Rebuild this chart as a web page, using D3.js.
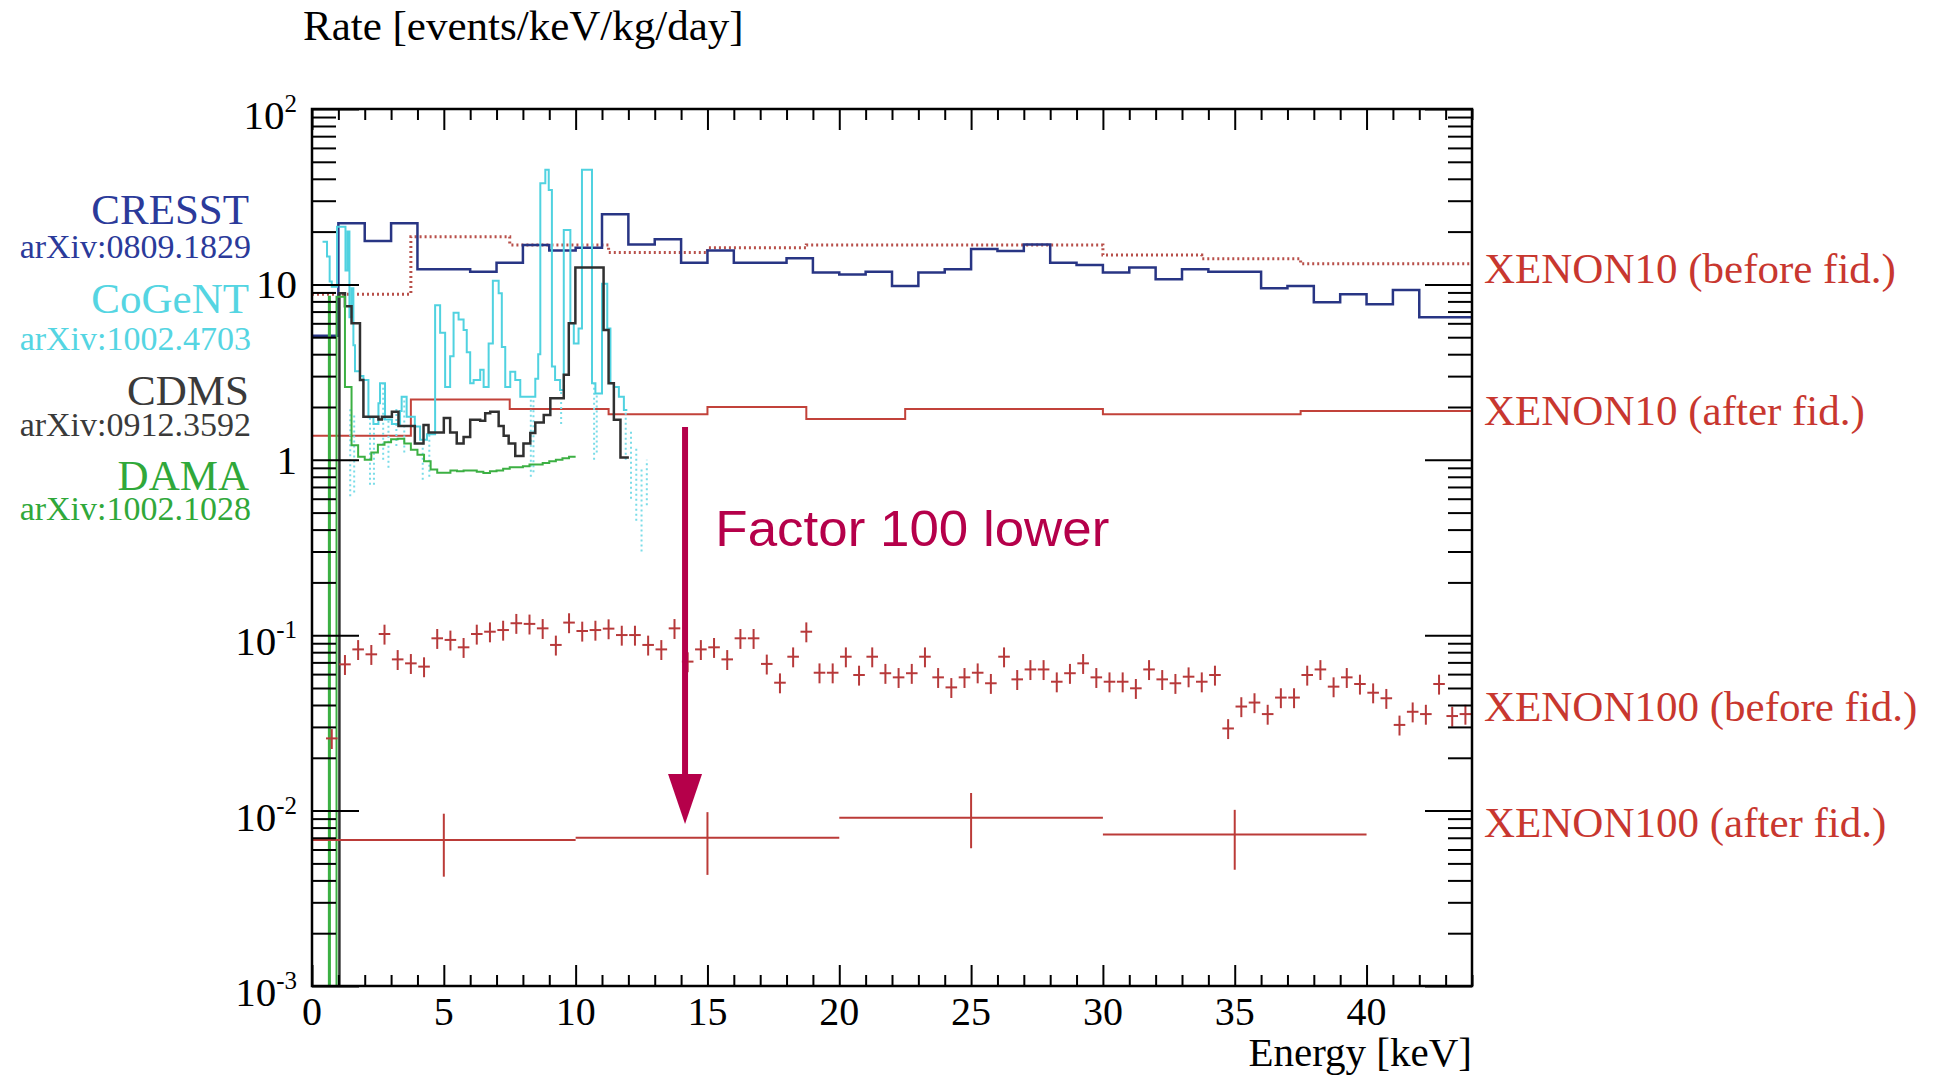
<!DOCTYPE html>
<html>
<head>
<meta charset="utf-8">
<script src="https://cdn.jsdelivr.net/npm/d3@7"></script>
<style>
  body { margin: 0; background: #fff; }
  svg { display: block; }
  text { font-family: "Liberation Serif", "Times New Roman", serif; }
</style>
</head>
<body>
<div id="chart"></div>
<script>
// ---- data (energy in keV, rate in events/keV/kg/day) ----

// CRESST, 1 keV bins
var cresstEdges = [0,1,2,3,4,5,6,7,8,9,10,11,12,13,14,15,16,17,18,19,20,21,22,23,24,25,26,27,28,29,30,31,32,33,34,35,36,37,38,39,40,41,42,43,44];
var cresstRate = [5.1,22.3,17.7,22.3,12.2,12.2,11.8,13.3,16.8,15.6,16.2,25.1,16.9,18.1,13.3,15.6,13.3,13.3,14.1,11.7,
  11.4,11.8,9.8,11.7,12.2,15.9,15.5,16.9,13.3,12.9,11.7,12.5,10.7,12.2,11.8,11.8,9.5,9.8,7.9,8.8,7.7,9.3,6.5,6.5];

// CoGeNT
var cogentEdges = [0.40,0.57,0.67,0.75,0.95,1.27,1.35,1.42,1.50,1.57,1.63,1.82,1.95,2.14,2.33,2.52,2.58,2.77,3.03,3.34,
  3.40,3.59,3.90,4.10,4.36,4.67,4.86,5.05,5.24,5.37,5.56,5.75,5.87,6.00,6.13,6.38,6.51,6.70,6.86,7.08,
  7.20,7.33,7.52,7.71,7.90,8.47,8.58,8.66,8.85,8.98,9.10,9.22,9.41,9.55,9.80,9.93,10.11,10.24,10.62,10.75,
  11.00,11.20,11.32,11.45,11.64,11.83,11.96];
var cogentRate = [17.5,14.4,10.4,9.7,21.3,12,20,6.5,9.5,4.5,3.2,3.0,2.85,1.75,1.6,2.1,2.73,1.7,1.6,1.9,
  2.29,1.76,1.55,1.3,1.4,7.6,5.3,2.6,3.9,6.9,6.3,5.5,4.1,2.73,2.85,3.26,2.6,4.6,10.5,8.9,
  4.4,2.6,3.18,2.85,2.29,2.9,4.0,37.7,45,34.5,3.4,2.85,2.5,20.4,6.0,4.6,5.6,45,2.73,2.39,
  10.1,5.6,2.73,2.6,2.29,1.92];
// CoGeNT error bars [energy, low, high]
var cogentErr = [[1.45,0.62,2.0],[1.6,0.65,1.8],[2.2,0.72,1.75],[2.35,0.72,1.6],[2.7,1.0,2.7],[2.9,0.9,1.7],
  [3.2,1.2,2.0],[3.5,1.1,2.3],[4.2,0.77,1.3],[4.45,0.8,1.4],[8.3,0.8,2.2],[8.4,0.85,2.2],[9.45,1.6,2.5],
  [10.7,1.0,2.7],[10.8,1.1,2.4],[11.9,1.0,1.9],[12.1,0.6,1.5],[12.3,0.45,1.2],[12.5,0.3,0.9],[12.7,0.55,1.0]];

// CDMS
var cdmsEdges = [1.04,1.25,1.5,1.82,1.95,2.52,2.65,3.03,3.28,3.6,3.9,4.23,4.42,4.74,5.0,5.24,5.49,5.75,6.0,6.38,
  6.57,6.76,7.08,7.27,7.46,7.71,8.02,8.28,8.47,8.79,9.04,9.55,9.74,9.99,11.06,11.25,11.45,11.7,12.02];
var cdmsRate = [8.9,7.5,6.0,2.85,1.76,1.7,1.76,1.88,1.56,1.56,1.24,1.58,1.43,1.43,1.73,1.43,1.24,1.35,1.69,1.67,
  1.84,1.88,1.56,1.37,1.24,1.05,1.24,1.42,1.63,1.80,2.24,3.05,6.0,12.5,5.5,2.73,1.69,1.03];

// DAMA
var damaEdges = [0.64,0.68,0.93,1.25,1.5,1.75,2.0,2.25,2.5,2.75,3.0,3.25,3.5,3.75,4.0,4.25,4.5,4.75,5.0,5.25,
  5.5,5.75,6.0,6.25,6.5,6.75,7.0,7.25,7.5,7.75,8.0,8.25,8.5,8.75,9.0,9.25,9.5,9.75,10.0];
var damaRate = [8.5,0,8.5,2.6,1.21,1.04,1.0,1.1,1.22,1.26,1.31,1.32,1.24,1.14,1.07,0.98,0.88,0.845,0.845,0.87,
  0.86,0.87,0.87,0.855,0.84,0.86,0.87,0.89,0.906,0.906,0.92,0.94,0.94,0.96,0.98,1.0,1.02,1.04];

// XENON10, 3.75 keV bins
var xe10Edges = [0,3.75,7.5,11.25,15,18.75,22.5,26.25,30,33.75,37.5,41.25,45];
var xe10BeforeRate = [8.8,18.7,16.8,15.2,16.2,16.8,16.8,16.8,14.7,14.0,13.1,13.1];
var xe10AfterRate = [1.37,2.21,1.95,1.82,2.0,1.71,1.95,1.95,1.82,1.82,1.90,1.90];

// XENON100 before fiducial cut, 0.5 keV bins starting at 0.5 keV
var xe100BeforeStart = 0.5, xe100BeforeWidth = 0.5, xe100BeforeRelErr = 0.13;
var xe100BeforeRate = [0.0258,0.0682,0.083,0.0778,0.1016,0.0728,0.0691,0.0662,0.096,0.094,
  0.0853,0.1016,0.1047,0.107,0.117,0.116,0.1094,0.088,0.118,0.1057,
  0.107,0.109,0.1002,0.1002,0.088,0.083,0.1094,0.0707,0.083,0.0853,
  0.0728,0.096,0.096,0.0686,0.0536,0.0754,0.1047,0.0611,0.0611,0.0754,
  0.0593,0.0754,0.0607,0.0575,0.0607,0.0754,0.0575,0.0504,0.0575,0.0611,
  0.0532,0.0754,0.056,0.0638,0.0638,0.0543,0.0607,0.0691,0.0575,0.0543,
  0.0543,0.0498,0.0638,0.056,0.0532,0.058,0.0543,0.0593,0.0294,0.0392,
  0.0413,0.0355,0.0441,0.0441,0.0593,0.0638,0.0509,0.0575,0.0527,0.047,
  0.0437,0.0308,0.0366,0.0355,0.0527,0.0346,0.0355];

// XENON100 after fiducial cut, 10 keV bins
var xe100AfterEdges = [0,10,20,30,40];
var xe100AfterRate = [0.0068,0.0070,0.0091,0.0073];
var xe100AfterLow = [0.0042,0.0043,0.0061,0.0046];
var xe100AfterHigh = [0.0096,0.0098,0.0126,0.0101];

// tick values
var energyMajor = [0,5,10,15,20,25,30,35,40];
var rateMajor = [1e-3,1e-2,1e-1,1,10,100];

// labels
var legendItems = [
  {name: "CRESST", ref: "arXiv:0809.1829", color: "#2b3a9a"},
  {name: "CoGeNT", ref: "arXiv:1002.4703", color: "#55d5e2"},
  {name: "CDMS", ref: "arXiv:0912.3592", color: "#3a3a3a"},
  {name: "DAMA", ref: "arXiv:1002.1028", color: "#30a83a"}
];
var xenonLabels = ["XENON10 (before fid.)", "XENON10 (after fid.)", "XENON100 (before fid.)", "XENON100 (after fid.)"];
var xenonLabelRates = [10.25, 1.58, 0.0325, 0.00703];

// arrow annotation (keV, rate)
var arrowEnergy = 14.15, arrowFrom = 1.54, arrowTo = 0.0084;
var noteEnergy = 15.3, noteRate = 0.323;

// ---- drawing ----
var W = 1943, H = 1076;
var plotL = 312, plotR = 1472, plotT = 109, plotB = 986;

var svg = d3.select("#chart").append("svg").attr("width", W).attr("height", H);
svg.append("rect").attr("width", W).attr("height", H).attr("fill", "#fff");

var x = d3.scaleLinear().domain([0, 44]).range([plotL, plotR]);
var y = d3.scaleLog().domain([1e-3, 1e2]).range([plotB, plotT]);
var yMin = y.domain()[0];

svg.append("clipPath").attr("id", "clip")
  .append("rect").attr("x", plotL).attr("y", plotT).attr("width", plotR - plotL).attr("height", plotB - plotT);

var plot = svg.append("g").attr("clip-path", "url(#clip)");

var stepLine = d3.line()
  .x(function(d) { return x(d[0]); })
  .y(function(d) { return y(Math.max(d[1], yMin)); })
  .curve(d3.curveStepAfter);

function histPoints(edges, rates, fromFloor) {
  var pts = rates.map(function(r, i) { return [edges[i], r]; });
  pts.push([edges[edges.length - 1], rates[rates.length - 1]]);
  if (fromFloor) pts.unshift([edges[0], 0]);
  return pts;
}

function drawHist(edges, rates, color, width, fromFloor, dash) {
  var p = plot.append("path")
    .attr("d", stepLine(histPoints(edges, rates, fromFloor)))
    .attr("fill", "none")
    .attr("stroke", color)
    .attr("stroke-width", width);
  if (dash) p.attr("stroke-dasharray", dash);
  return p;
}

// XENON10 before (dotted)
drawHist(xe10Edges, xe10BeforeRate, "#b8504a", 3, false, "2,3");
// CRESST
drawHist(cresstEdges, cresstRate, "#283584", 2.5, false);
// XENON10 after
drawHist(xe10Edges, xe10AfterRate, "#c2423a", 2, false);

// CoGeNT error bars (dotted) and histogram
plot.selectAll(".cogentErr").data(cogentErr).join("line")
  .attr("class", "cogentErr")
  .attr("x1", function(d) { return x(d[0]); })
  .attr("x2", function(d) { return x(d[0]); })
  .attr("y1", function(d) { return y(d[1]); })
  .attr("y2", function(d) { return y(d[2]); })
  .attr("stroke", "#7adce8")
  .attr("stroke-width", 2)
  .attr("stroke-dasharray", "2,3");
drawHist(cogentEdges, cogentRate, "#50d2e0", 2, false);

// CDMS
drawHist(cdmsEdges, cdmsRate, "#303030", 2.5, true);
// DAMA
drawHist(damaEdges, damaRate, "#3cb043", 2, true);

// XENON100 before: points with error bars
var xe100Color = "#b7393a";
var xe100b = plot.selectAll(".xe100b").data(xe100BeforeRate).join("g").attr("class", "xe100b");
xe100b.append("line")
  .attr("x1", function(d, i) { return x(xe100BeforeStart + (i + 0.5) * xe100BeforeWidth - 0.22); })
  .attr("x2", function(d, i) { return x(xe100BeforeStart + (i + 0.5) * xe100BeforeWidth + 0.22); })
  .attr("y1", function(d) { return y(d); })
  .attr("y2", function(d) { return y(d); });
xe100b.append("line")
  .attr("x1", function(d, i) { return x(xe100BeforeStart + (i + 0.5) * xe100BeforeWidth); })
  .attr("x2", function(d, i) { return x(xe100BeforeStart + (i + 0.5) * xe100BeforeWidth); })
  .attr("y1", function(d) { return y(d * (1 - xe100BeforeRelErr)); })
  .attr("y2", function(d) { return y(d * (1 + xe100BeforeRelErr)); });
xe100b.selectAll("line").attr("stroke", xe100Color).attr("stroke-width", 2);

// XENON100 after: wide bins with error bars
var xe100a = plot.selectAll(".xe100a").data(xe100AfterRate).join("g").attr("class", "xe100a");
xe100a.append("line")
  .attr("x1", function(d, i) { return x(xe100AfterEdges[i]); })
  .attr("x2", function(d, i) { return x(xe100AfterEdges[i + 1]); })
  .attr("y1", function(d) { return y(d); })
  .attr("y2", function(d) { return y(d); });
xe100a.append("line")
  .attr("x1", function(d, i) { return x((xe100AfterEdges[i] + xe100AfterEdges[i + 1]) / 2); })
  .attr("x2", function(d, i) { return x((xe100AfterEdges[i] + xe100AfterEdges[i + 1]) / 2); })
  .attr("y1", function(d, i) { return y(xe100AfterLow[i]); })
  .attr("y2", function(d, i) { return y(xe100AfterHigh[i]); });
xe100a.selectAll("line").attr("stroke", "#bb3b38").attr("stroke-width", 2);

// ---- axes ----
var energyMinor = d3.range(0, 45, 1).filter(function(v) { return v % 5 !== 0; });
var rateMinor = [];
[-3, -2, -1, 0, 1].forEach(function(e) {
  for (var m = 2; m <= 9; m++) rateMinor.push(m * Math.pow(10, e));
});

function tickAxis(axis, values, size, tx, ty) {
  var g = svg.append("g").attr("transform", "translate(" + tx + "," + ty + ")")
    .call(axis.tickValues(values).tickSize(size).tickSizeOuter(0).tickFormat(""));
  g.select(".domain").remove();
  g.selectAll(".tick line").attr("stroke", "#000").attr("stroke-width", 2);
  return g;
}

tickAxis(d3.axisBottom(x), energyMajor, -21, 0, plotB);
tickAxis(d3.axisBottom(x), energyMinor, -11, 0, plotB);
tickAxis(d3.axisTop(x), energyMajor, -21, 0, plotT);
tickAxis(d3.axisTop(x), energyMinor, -11, 0, plotT);
tickAxis(d3.axisLeft(y), rateMajor, -47, plotL, 0);
tickAxis(d3.axisLeft(y), rateMinor, -24, plotL, 0);
tickAxis(d3.axisRight(y), rateMajor, -47, plotR, 0);
tickAxis(d3.axisRight(y), rateMinor, -24, plotR, 0);

svg.append("rect")
  .attr("x", plotL).attr("y", plotT).attr("width", plotR - plotL).attr("height", plotB - plotT)
  .attr("fill", "none").attr("stroke", "#000").attr("stroke-width", 2.5);

// tick labels
svg.selectAll(".xlab").data(energyMajor).join("text")
  .attr("class", "xlab")
  .attr("x", function(d) { return x(d); })
  .attr("y", plotB + 39)
  .attr("text-anchor", "middle")
  .attr("font-size", 40)
  .text(function(d) { return d; });

var ylab = svg.selectAll(".ylab").data(rateMajor).join("text")
  .attr("class", "ylab")
  .attr("x", plotL - 15)
  .attr("y", function(d) {
    var e = Math.round(Math.log10(d));
    return y(d) + (e === 0 || e === 1 ? 14 : 20);
  })
  .attr("text-anchor", "end")
  .attr("font-size", 41);
ylab.each(function(d) {
  var e = Math.round(Math.log10(d));
  var t = d3.select(this);
  if (e === 0) { t.text("1"); return; }
  t.append("tspan").text("10");
  if (e !== 1) t.append("tspan").attr("font-size", 25).attr("dy", -17).text(e);
});

// axis titles
svg.append("text").attr("x", 303).attr("y", 40).attr("font-size", 43)
  .text("Rate [events/keV/kg/day]");
svg.append("text").attr("x", plotR).attr("y", 1066).attr("text-anchor", "end").attr("font-size", 41)
  .text("Energy [keV]");

// legend on the left
var legendNameY = [224, 313, 405, 490];
var legendRefY = [258, 350, 436, 520];
legendItems.forEach(function(d, i) {
  svg.append("text").attr("x", 249).attr("y", legendNameY[i]).attr("text-anchor", "end")
    .attr("font-size", 43).attr("fill", d.color).text(d.name);
  svg.append("text").attr("x", 251).attr("y", legendRefY[i]).attr("text-anchor", "end")
    .attr("font-size", 34).attr("fill", d.color).text(d.ref);
});

// XENON labels on the right
svg.selectAll(".xelab").data(xenonLabels).join("text")
  .attr("class", "xelab")
  .attr("x", plotR + 12)
  .attr("y", function(d, i) { return y(xenonLabelRates[i]); })
  .attr("font-size", 43)
  .attr("fill", "#c8372f")
  .text(function(d) { return d; });

// "Factor 100 lower" arrow
var arrowColor = "#b5004a";
var ax = x(arrowEnergy), ayTip = y(arrowTo);
svg.append("line")
  .attr("x1", ax).attr("x2", ax)
  .attr("y1", y(arrowFrom)).attr("y2", ayTip - 40)
  .attr("stroke", arrowColor).attr("stroke-width", 6);
svg.append("path")
  .attr("d", "M" + (ax - 17) + "," + (ayTip - 50) + "L" + (ax + 17) + "," + (ayTip - 50) + "L" + ax + "," + ayTip + "Z")
  .attr("fill", arrowColor);
svg.append("text")
  .attr("x", x(noteEnergy)).attr("y", y(noteRate))
  .style("font-family", "'Liberation Sans', Arial, sans-serif")
  .attr("font-size", 50)
  .attr("textLength", 394)
  .attr("lengthAdjust", "spacingAndGlyphs")
  .attr("fill", arrowColor)
  .text("Factor 100 lower");
</script>
</body>
</html>
